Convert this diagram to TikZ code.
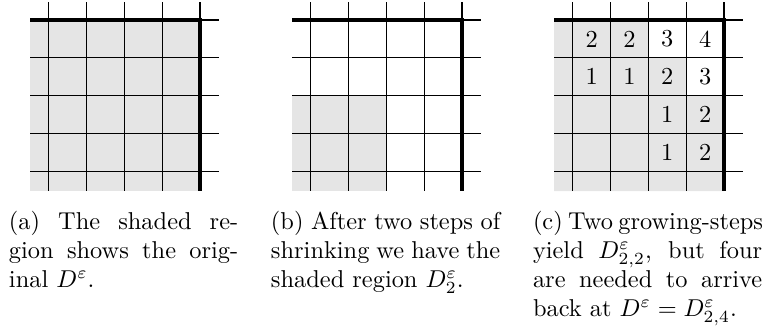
\documentclass[tikz,border=0pt]{standalone}
\usepackage{amsmath}
\newlength{\capw}\setlength{\capw}{94pt}
\begin{document}
\begin{tikzpicture}[x=0.41pt,y=-0.41pt,
  gridline/.style={line width=0.45pt},
  border/.style={line width=1.3pt},
  shade/.style={fill=black!10},
  num/.style={inner sep=0pt},
  captext/.style={anchor=base west, inner sep=0pt}]
\useasboundingbox (0,0) rectangle (763,328);
% shaded regions
\fill[shade] (30,20) rectangle (200,191);
\fill[shade] (292,95.6) rectangle (386.4,191);
\fill[shade] (554,20) -- (648.4,20) -- (648.4,57.8) -- (686.2,57.8) -- (686.2,95.6) -- (724,95.6) -- (724,191) -- (554,191) -- cycle;
% grids
\foreach \ox in {0,262,524}{
  \foreach \k in {0,...,4}{
    \draw[gridline] (200+\ox-\k*37.8,2) -- (200+\ox-\k*37.8,191);
    \draw[gridline] (30+\ox,20+\k*37.8) -- (219+\ox,20+\k*37.8);
  }
  \draw[border] (30+\ox,20) -- (200+\ox,20) -- (200+\ox,191);
}
% numbers in panel (c)
\node[num] (n11) at (591.7,38.9) {2};
\node[num] (n12) at (629.5,38.9) {2};
\node[num] (n13) at (667.3,38.9) {3};
\node[num] (n14) at (705.1,38.9) {4};
\node[num] (n21) at (591.7,76.7) {1};
\node[num] (n22) at (629.5,76.7) {1};
\node[num] (n23) at (667.3,76.7) {2};
\node[num] (n24) at (705.1,76.7) {3};
\node[num] (n33) at (667.3,114.5) {1};
\node[num] (n34) at (705.1,114.5) {2};
\node[num] (n43) at (667.3,152.3) {1};
\node[num] (n44) at (705.1,152.3) {2};
% captions
\node[captext] (capa) at (8.5,229) {\parbox[t]{\capw}{\hbox to\capw{(a) The shaded re-}\hbox to\capw{gion shows the orig-}\hbox{inal $D^\varepsilon$.}}};
\node[captext] (capb) at (270.5,229) {\parbox[t]{\capw}{\hbox to\capw{(b) After two steps of}\hbox to\capw{shrinking we have the}\hbox{shaded region $D^\varepsilon_2$.}}};
\node[captext] (capc) at (532.5,229) {\parbox[t]{\capw}{\hbox to\capw{(c) Two growing-steps}\hbox to\capw{yield $D^\varepsilon_{2,2}$, but four}\hbox to\capw{are needed to arrive}\hbox{back at $D^\varepsilon = D^\varepsilon_{2,4}$.}}};
\end{tikzpicture}
\end{document}
